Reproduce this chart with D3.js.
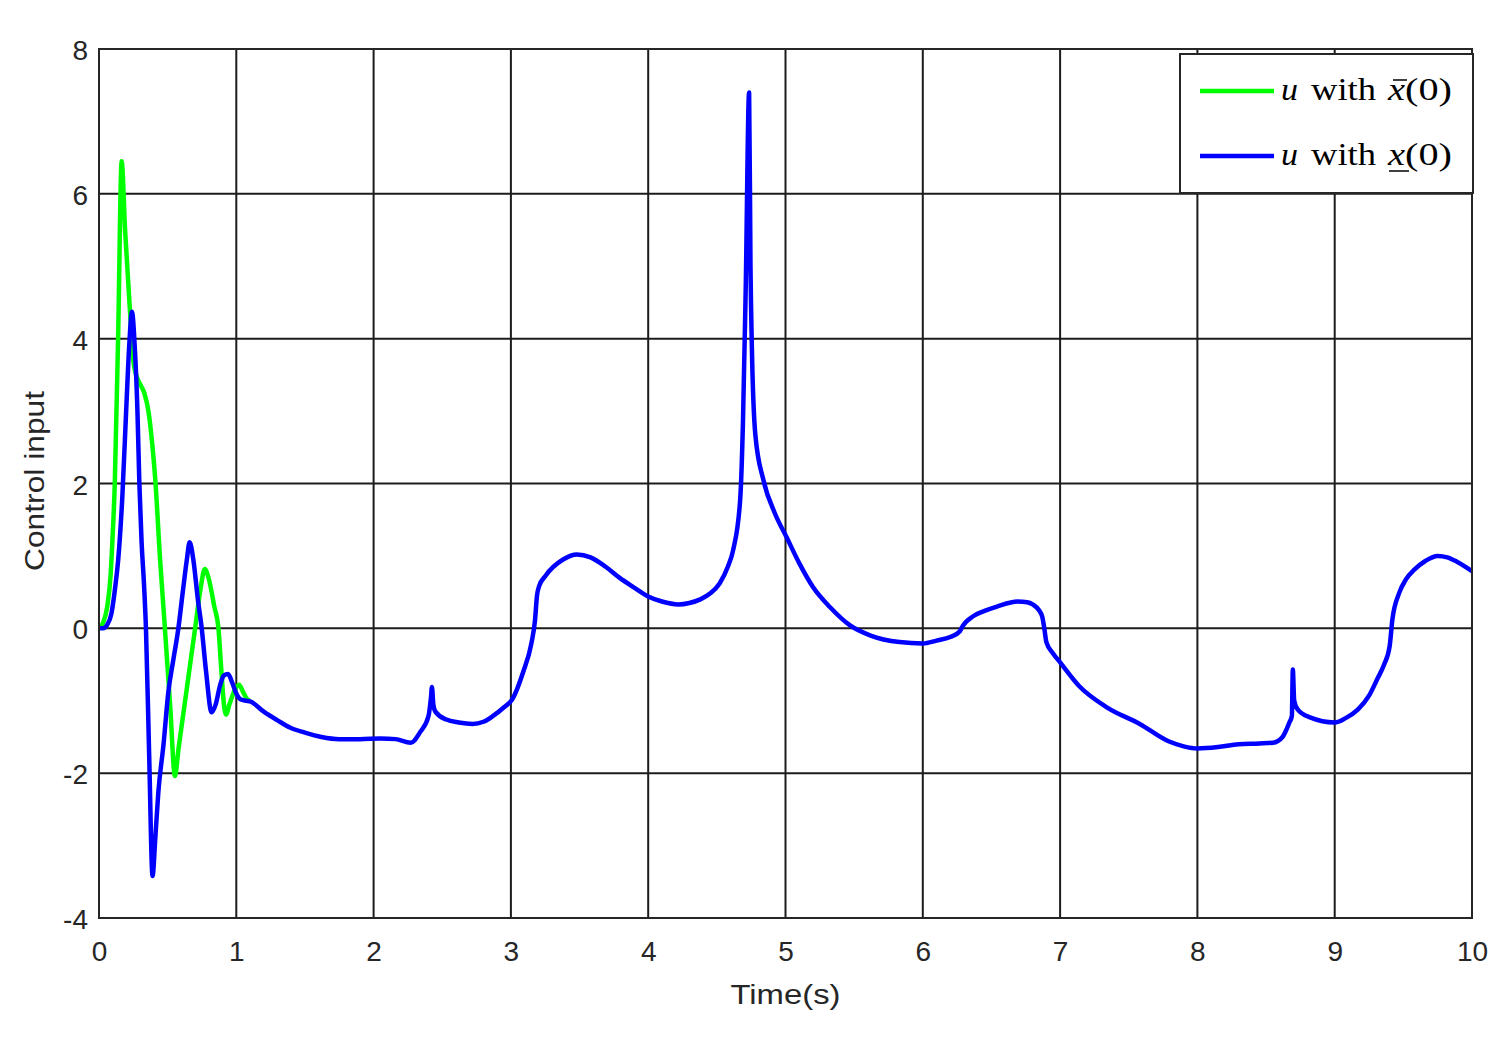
<!DOCTYPE html>
<html>
<head>
<meta charset="utf-8">
<script src="https://cdn.jsdelivr.net/npm/d3@7"></script>
<style>
  html, body { margin: 0; padding: 0; background: #fff; }
  svg { display: block; }
</style>
</head>
<body>
<svg id="chart" width="1504" height="1037"></svg>
<script>
// ---------- data ----------
const tBar = [0,0.03,0.06,0.085,0.10,0.115,0.14,0.165,0.19,0.225,0.25,0.28,0.30,0.33,0.36,0.39,0.41,0.445,0.48,0.52,0.553,0.58,0.62,0.66,0.70,0.74,0.77,0.80,0.84,0.87,0.89,0.91,0.925,0.95,0.99,1.02,1.05,1.08,1.10];
const uBar = [0,0.08,0.3,0.75,1.3,2.0,4.1,6.45,5.5,4.4,3.7,3.45,3.37,3.25,3.0,2.5,2.05,0.95,0.0,-1.12,-2.04,-1.65,-1.1,-0.55,0.0,0.55,0.82,0.68,0.3,0.0,-0.55,-1.05,-1.19,-1.05,-0.85,-0.78,-0.88,-0.98,-1.0];

const tUnder = [0,0.03,0.06,0.09,0.12,0.14,0.17,0.20,0.22,0.24,0.26,0.28,0.294,0.31,0.328,0.342,0.366,0.39,0.41,0.432,0.47,0.505,0.54,0.578,0.61,0.64,0.66,0.687,0.72,0.748,0.78,0.82,0.85,0.88,0.91,0.94,0.97,1.0,1.03,1.075,1.10,1.2,1.3,1.39,1.5,1.62,1.75,1.9,2.05,2.16,2.27,2.34,2.40,2.418,2.425,2.435,2.45,2.53,2.62,2.72,2.80,2.87,2.95,3.01,3.09,3.15,3.175,3.19,3.205,3.25,3.38,3.48,3.58,3.69,3.79,3.90,4.0,4.1,4.22,4.30,4.38,4.45,4.52,4.58,4.62,4.67,4.69,4.71,4.735,4.745,4.755,4.78,4.84,4.92,5.01,5.10,5.20,5.33,5.47,5.62,5.83,6.0,6.1,6.2,6.27,6.29,6.37,6.45,6.54,6.69,6.76,6.80,6.85,6.87,6.885,6.90,6.95,7.0,7.14,7.34,7.58,7.79,7.90,8.0,8.15,8.30,8.45,8.55,8.62,8.67,8.688,8.695,8.705,8.73,8.82,9.0,9.08,9.17,9.25,9.31,9.36,9.40,9.42,9.47,9.52,9.58,9.66,9.75,9.82,9.89,10];
const uUnder = [0,0.0,0.05,0.2,0.6,0.95,1.82,3.1,3.9,4.37,3.9,3.0,2.0,1.2,0.6,0.0,-1.8,-3.42,-2.9,-2.27,-1.6,-0.88,-0.45,0.0,0.5,0.95,1.19,0.95,0.4,0.0,-0.6,-1.16,-1.05,-0.8,-0.65,-0.63,-0.75,-0.9,-0.98,-1.0,-1.01,-1.15,-1.27,-1.37,-1.44,-1.50,-1.53,-1.53,-1.52,-1.53,-1.58,-1.43,-1.21,-0.95,-0.81,-1.05,-1.15,-1.26,-1.30,-1.32,-1.29,-1.21,-1.09,-0.98,-0.6,-0.2,0.1,0.45,0.58,0.72,0.95,1.02,0.98,0.85,0.70,0.56,0.44,0.37,0.33,0.35,0.40,0.48,0.62,0.85,1.09,1.78,2.83,4.67,7.40,5.0,3.89,2.68,2.04,1.6,1.25,0.9,0.57,0.28,0.04,-0.1,-0.19,-0.21,-0.17,-0.12,-0.04,0.03,0.17,0.24,0.30,0.37,0.36,0.33,0.24,0.16,0.0,-0.19,-0.35,-0.47,-0.8,-1.09,-1.32,-1.56,-1.63,-1.66,-1.64,-1.6,-1.59,-1.58,-1.5,-1.3,-1.21,-0.57,-1.0,-1.12,-1.23,-1.3,-1.24,-1.12,-0.93,-0.7,-0.5,-0.25,0.12,0.49,0.68,0.81,0.93,1.0,0.98,0.92,0.79];

const xTicks = [0,1,2,3,4,5,6,7,8,9,10];
const yTicks = [-4,-2,0,2,4,6,8];
const xLabel = "Time(s)";
const yLabel = "Control input";

// ---------- layout ----------
const svg = d3.select("#chart");
const L = 99, R = 1472, T = 49, B = 918;
const x = d3.scaleLinear().domain([0, 10]).range([L, R]);
const y = d3.scaleLinear().domain([-4, 8]).range([B, T]);

const gridColor = "#1c1c1c";
const axisColor = "#262626";

// grid
const grid = svg.append("g");
grid.selectAll("line.v").data(xTicks).join("line")
  .attr("x1", d => x(d)).attr("x2", d => x(d))
  .attr("y1", T).attr("y2", B)
  .attr("stroke", gridColor).attr("stroke-width", 2);
grid.selectAll("line.h").data(yTicks).join("line")
  .attr("x1", L).attr("x2", R)
  .attr("y1", d => y(d)).attr("y2", d => y(d))
  .attr("stroke", gridColor).attr("stroke-width", 2);

// axes (labels via d3 axes)
const fontSans = "'Liberation Sans', Arial, Helvetica, sans-serif";
const xAxis = svg.append("g").attr("transform", `translate(0,${B})`)
  .call(d3.axisBottom(x).tickValues(xTicks).tickFormat(d3.format("d")).tickSize(0).tickPadding(23));
const yAxis = svg.append("g").attr("transform", `translate(${L},0)`)
  .call(d3.axisLeft(y).tickValues(yTicks).tickFormat(d => d < 0 ? "-" + Math.abs(d) : String(d)).tickSize(0).tickPadding(11));
[xAxis, yAxis].forEach(g => {
  g.select(".domain").remove();
  g.selectAll("text").attr("font-family", fontSans).attr("font-size", 28).attr("fill", axisColor);
});
yAxis.selectAll("text").attr("dy", "0.38em");

// curves
const line = d3.line().x(d => x(d[0])).y(d => y(d[1])).curve(d3.curveMonotoneX);
const dataBar = tBar.map((t, i) => [t, uBar[i]]);
const dataUnder = tUnder.map((t, i) => [t, uUnder[i]]);

svg.append("clipPath").attr("id", "plotclip").append("rect")
  .attr("x", L).attr("y", T).attr("width", R - L).attr("height", B - T);

svg.append("path").datum(dataBar).attr("d", line)
  .attr("fill", "none").attr("stroke", "#00ff00").attr("stroke-width", 4.5)
  .attr("stroke-linejoin", "round").attr("clip-path", "url(#plotclip)");
svg.append("path").datum(dataUnder).attr("d", line)
  .attr("fill", "none").attr("stroke", "#0000ff").attr("stroke-width", 4.5)
  .attr("stroke-linejoin", "round").attr("clip-path", "url(#plotclip)");

// axes box
svg.append("rect").attr("x", L).attr("y", T).attr("width", R - L).attr("height", B - T)
  .attr("fill", "none").attr("stroke", axisColor).attr("stroke-width", 2);

// axis labels
svg.append("text").attr("x", (L + R) / 2).attr("y", 1004)
  .attr("text-anchor", "middle").attr("font-family", fontSans).attr("font-size", 28)
  .attr("fill", axisColor).attr("textLength", 110).attr("lengthAdjust", "spacingAndGlyphs")
  .text(xLabel);
svg.append("text").attr("transform", `translate(44,481) rotate(-90)`)
  .attr("text-anchor", "middle").attr("font-family", fontSans).attr("font-size", 28)
  .attr("fill", axisColor).attr("textLength", 180).attr("lengthAdjust", "spacingAndGlyphs")
  .text(yLabel);

// legend
const leg = svg.append("g");
leg.append("rect").attr("x", 1180).attr("y", 54).attr("width", 293).attr("height", 139)
  .attr("fill", "#fff").attr("stroke", axisColor).attr("stroke-width", 2);
const fontSerif = "'Liberation Serif', 'Times New Roman', serif";
const rows = [
  { color: "#00ff00", ly: 91, base: 100, mark: "bar" },
  { color: "#0000ff", ly: 156, base: 165, mark: "under" }
];
rows.forEach(r => {
  leg.append("line").attr("x1", 1200).attr("x2", 1274).attr("y1", r.ly).attr("y2", r.ly)
    .attr("stroke", r.color).attr("stroke-width", 4.5);
  const txt = (s, xx, italic, len) => {
    const t = leg.append("text").attr("x", xx).attr("y", r.base)
      .attr("font-family", fontSerif).attr("font-size", 31).attr("fill", "#000")
      .attr("font-style", italic ? "italic" : "normal").text(s);
    if (len) t.attr("textLength", len).attr("lengthAdjust", "spacingAndGlyphs");
  };
  txt("u", 1281, true, 17);
  txt("with", 1311, false, 65);
  txt("x", 1388, true, 17);
  txt("(0)", 1405, false, 47);
  if (r.mark === "bar") {
    leg.append("line").attr("x1", 1393).attr("x2", 1407).attr("y1", 80).attr("y2", 80)
      .attr("stroke", "#000").attr("stroke-width", 1.5);
  } else {
    leg.append("line").attr("x1", 1389).attr("x2", 1409).attr("y1", 171).attr("y2", 171)
      .attr("stroke", "#000").attr("stroke-width", 1.5);
  }
});
</script>
</body>
</html>
